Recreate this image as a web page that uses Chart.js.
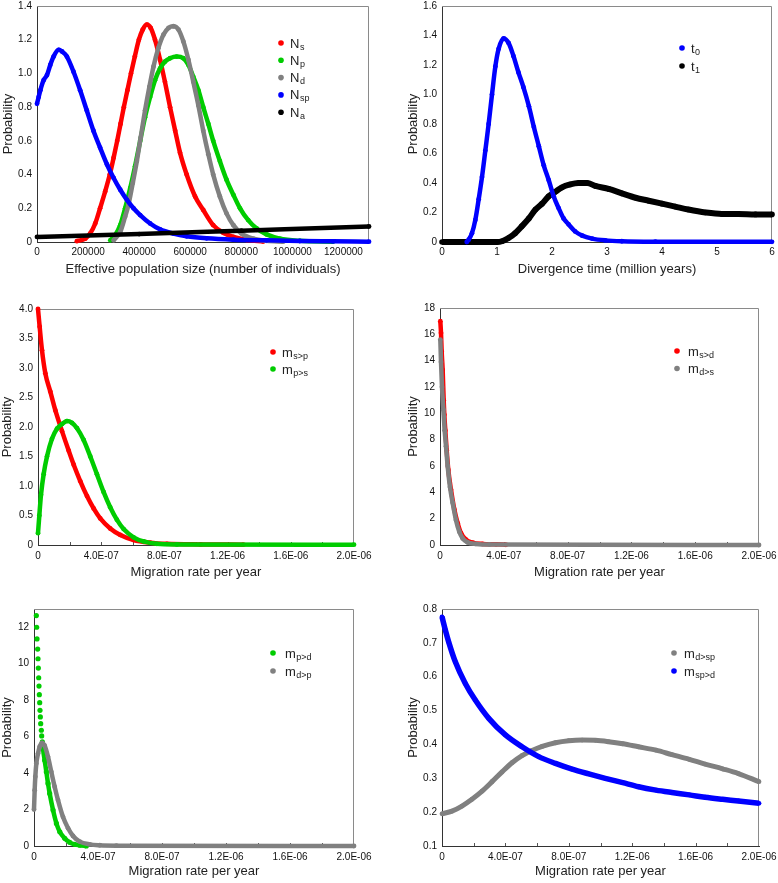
<!DOCTYPE html>
<html><head><meta charset="utf-8">
<script src="https://cdn.jsdelivr.net/npm/chart.js@4.4.1/dist/chart.umd.min.js"></script>
<style>
html,body{margin:0;padding:0;background:#fff;}
body{width:778px;height:883px;position:relative;overflow:hidden;}
canvas{position:absolute;}
</style></head><body>
<canvas id="c1"></canvas><canvas id="c2"></canvas><canvas id="c3"></canvas>
<canvas id="c4"></canvas><canvas id="c5"></canvas><canvas id="c6"></canvas>
<script>
// ---------- Panel 1: effective population size ----------
const nsX = [156000,189000,208000,228000,247000,267000,285000,300000,314000,327000,340000,354000,368000,383000,399000,414000,430000,445000,462000,482000,501000,521000,541000,560000,586000,619000,651000,690000,729000,769000,821000,886000];
const nsY = [0.005,0.02,0.05,0.11,0.2,0.3,0.4,0.5,0.6,0.7,0.8,0.9,1.0,1.1,1.2,1.26,1.29,1.27,1.2,1.08,0.95,0.8,0.66,0.53,0.4,0.27,0.19,0.1,0.055,0.03,0.012,0.003];
const npX = [287000,306000,326000,345000,365000,384000,404000,423000,443000,462000,482000,501000,521000,547000,573000,593000,612000,632000,651000,671000,690000,716000,742000,769000,795000,827000,860000,899000,951000,1029000,1159000];
const npY = [0.01,0.04,0.1,0.2,0.32,0.45,0.6,0.74,0.86,0.96,1.03,1.07,1.09,1.10,1.09,1.05,0.98,0.9,0.8,0.7,0.6,0.48,0.37,0.28,0.2,0.13,0.08,0.045,0.02,0.007,0.002];
const ndX = [300000,326000,345000,358000,375000,391000,406000,423000,440000,456000,475000,495000,515000,534000,554000,573000,593000,612000,632000,651000,671000,690000,716000,742000,769000,801000,847000,899000,964000];
const ndY = [0.01,0.06,0.15,0.22,0.35,0.48,0.62,0.78,0.92,1.04,1.15,1.23,1.27,1.28,1.26,1.19,1.08,0.95,0.81,0.66,0.52,0.4,0.27,0.17,0.1,0.05,0.02,0.007,0.002];
const nspX = [0,6500,13000,26000,39000,52000,65000,85000,98000,117000,143000,169000,195000,221000,247000,274000,300000,326000,352000,378000,404000,443000,482000,534000,586000,664000,769000,899000,1029000,1159000,1300000];
const nspY = [0.82,0.86,0.9,0.96,0.99,1.05,1.1,1.14,1.13,1.1,1.01,0.9,0.78,0.66,0.56,0.46,0.38,0.31,0.25,0.2,0.16,0.11,0.075,0.05,0.034,0.022,0.014,0.01,0.006,0.004,0.002];
const naX = [0,400000,800000,1300000];
const naY = [0.03,0.047,0.067,0.092];
const p1XTicks = [0,200000,400000,600000,800000,1000000,1200000];
const p1XLabels = ['0','200000','400000','600000','800000','1000000','1200000'];
const p1YTicks = [0,0.2,0.4,0.6,0.8,1.0,1.2,1.4];
const p1YLabels = ['0','0.2','0.4','0.6','0.8','1.0','1.2','1.4'];

// ---------- Panel 2: divergence time ----------
const t0X = [0.45,0.485,0.545,0.606,0.667,0.727,0.788,0.848,0.909,0.97,1.03,1.12,1.21,1.30,1.39,1.48,1.58,1.67,1.76,1.85,1.94,2.03,2.12,2.21,2.30,2.42,2.55,2.73,2.97,3.27,3.88,6];
const t0Y = [0,0.016,0.06,0.15,0.29,0.44,0.62,0.80,1.0,1.19,1.31,1.38,1.35,1.26,1.15,1.05,0.92,0.78,0.65,0.52,0.42,0.31,0.23,0.16,0.12,0.072,0.043,0.023,0.011,0.005,0.002,0.001];
const t1X = [0,1.0,1.09,1.21,1.33,1.45,1.58,1.70,1.82,1.94,2.06,2.18,2.33,2.48,2.64,2.79,3.03,3.27,3.52,3.76,4.0,4.24,4.48,4.79,5.09,5.39,5.70,6.0];
const t1Y = [0,0,0.005,0.027,0.06,0.106,0.16,0.22,0.26,0.31,0.34,0.37,0.39,0.40,0.40,0.38,0.36,0.33,0.30,0.28,0.26,0.24,0.22,0.20,0.19,0.19,0.187,0.187];
const p2XTicks = [0,1,2,3,4,5,6];
const p2XLabels = ['0','1','2','3','4','5','6'];
const p2YTicks = [0,0.2,0.4,0.6,0.8,1.0,1.2,1.4,1.6];
const p2YLabels = ['0','0.2','0.4','0.6','0.8','1.0','1.2','1.4','1.6'];

// ---------- Migration panels: shared x ticks ----------
const migXTicks = [0,4e-7,8e-7,1.2e-6,1.6e-6,2e-6];
const migXLabels = ['0','4.0E-07','8.0E-07','1.2E-06','1.6E-06','2.0E-06'];

// Panel 3
const mspX = [0,1.05e-8,2.53e-8,4.64e-8,7.8e-8,1.10e-7,1.52e-7,1.94e-7,2.26e-7,2.68e-7,3.10e-7,3.52e-7,3.94e-7,4.57e-7,5.21e-7,6.05e-7,7.10e-7,8.16e-7,1.03e-6,1.30e-6];
const mspY = [4.0,3.7,3.3,2.91,2.6,2.28,1.93,1.6,1.36,1.08,0.83,0.62,0.45,0.28,0.17,0.085,0.04,0.02,0.01,0.005];
const mpsX = [0,8.4e-9,1.9e-8,3.58e-8,5.69e-8,8.85e-8,1.20e-7,1.52e-7,1.83e-7,2.15e-7,2.47e-7,2.89e-7,3.31e-7,3.73e-7,4.15e-7,4.57e-7,4.99e-7,5.42e-7,6.05e-7,6.68e-7,7.52e-7,8.79e-7,2e-6];
const mpsY = [0.2,0.5,0.85,1.2,1.5,1.8,1.97,2.05,2.1,2.07,1.98,1.78,1.5,1.2,0.9,0.64,0.43,0.27,0.13,0.06,0.02,0.01,0.005];
const p3YTicks = [0,0.5,1,1.5,2,2.5,3,3.5,4];
const p3YLabels = ['0','0.5','1.0','1.5','2.0','2.5','3.0','3.5','4.0'];

// Panel 4
const msdX = [2.1e-9,6.3e-9,1.04e-8,1.67e-8,2.3e-8,2.71e-8,3.34e-8,4.18e-8,5.22e-8,6.89e-8,8.98e-8,1.11e-7,1.32e-7,1.63e-7,2.05e-7,2.67e-7,3.51e-7,4.13e-7];
const msdY = [17.0,16.1,14.7,13.3,11.0,9.9,8.7,7.2,5.7,4.2,2.7,1.65,0.9,0.4,0.18,0.08,0.05,0.02];
const mdsX = [2.1e-9,6.3e-9,1.25e-8,2.09e-8,2.92e-8,3.76e-8,4.8e-8,6.26e-8,7.93e-8,1.0e-7,1.21e-7,1.42e-7,1.73e-7,2.25e-7,3.09e-7,2e-6];
const mdsY = [15.6,13.9,12.0,10.3,8.7,7.5,6.0,4.4,3.2,1.9,1.0,0.5,0.2,0.08,0.03,0];
const p4YTicks = [0,2,4,6,8,10,12,14,16,18];
const p4YLabels = ['0','2','4','6','8','10','12','14','16','18'];

// Panel 5
const mpdX = [1.46e-8,1.67e-8,1.88e-8,2.29e-8,2.5e-8,2.71e-8,2.92e-8,3.13e-8,3.34e-8,3.55e-8,3.75e-8,3.96e-8,4.17e-8,4.59e-8,4.8e-8,5.21e-8,5.63e-8,6.67e-8,7.72e-8,8.76e-8,9.8e-8,1.19e-7,1.4e-7,1.61e-7,1.92e-7,2.23e-7,2.54e-7,2.86e-7,3.27e-7];
const mpdY = [12.64,12.0,11.36,10.8,10.27,9.76,9.23,8.77,8.3,7.86,7.44,7.08,6.71,6.35,6.04,5.71,5.34,4.7,4.07,3.43,2.88,1.97,1.24,0.78,0.42,0.2,0.09,0.04,0];
const mdpX = [0,4.2e-9,8.3e-9,1.46e-8,2.5e-8,3.55e-8,5.0e-8,6.67e-8,8.76e-8,1.08e-7,1.29e-7,1.5e-7,1.81e-7,2.13e-7,2.44e-7,2.86e-7,3.48e-7,4.11e-7,5.15e-7,2e-6];
const mdpY = [2.0,3.06,3.8,4.52,5.07,5.45,5.65,5.5,4.89,4.07,3.25,2.52,1.6,0.97,0.55,0.24,0.09,0.04,0.02,0];
const p5YTicks = [0,2,4,6,8,10,12];
const p5YLabels = ['0','2','4','6','8','10','12'];

// Panel 6
const mdspX = [0,6.3e-8,1.26e-7,1.89e-7,2.53e-7,3.16e-7,3.79e-7,4.42e-7,5.05e-7,5.68e-7,6.32e-7,7.16e-7,8.0e-7,8.84e-7,9.68e-7,1.05e-6,1.14e-6,1.24e-6,1.35e-6,1.45e-6,1.56e-6,1.66e-6,1.77e-6,1.87e-6,2e-6];
const mdspY = [0.195,0.203,0.218,0.238,0.262,0.29,0.319,0.346,0.367,0.382,0.394,0.405,0.411,0.413,0.412,0.408,0.402,0.393,0.383,0.37,0.356,0.342,0.328,0.314,0.29];
const mspdX = [0,2.1e-8,4.2e-8,8.4e-8,1.47e-7,2.1e-7,2.95e-7,4.0e-7,5.05e-7,6.1e-7,7.16e-7,8.21e-7,9.26e-7,1.03e-6,1.14e-6,1.24e-6,1.35e-6,1.45e-6,1.56e-6,1.66e-6,1.77e-6,1.87e-6,2e-6];
const mspdY = [0.777,0.738,0.703,0.644,0.58,0.531,0.477,0.428,0.393,0.364,0.344,0.327,0.313,0.30,0.287,0.275,0.265,0.258,0.251,0.244,0.238,0.233,0.226];
const p6YTicks = [0.1,0.2,0.3,0.4,0.5,0.6,0.7,0.8];
const p6YLabels = ['0.1','0.2','0.3','0.4','0.5','0.6','0.7','0.8'];

// ---------- styling ----------
const FAM = "'Liberation Sans', Arial, Helvetica, sans-serif";
const RED = '#ff0000', GREEN = '#00cc00', GRAY = '#808080', BLUE = '#0000ff', BLACK = '#000000';

const framePlugin = {
  id: 'frame',
  beforeDatasetsDraw(chart, args, opts) {
    const {ctx, chartArea: {left, top, right, bottom}} = chart;
    ctx.save();
    ctx.strokeStyle = '#8a8a8a'; ctx.lineWidth = 1;
    ctx.beginPath();
    ctx.moveTo(left, top + 0.5); ctx.lineTo(right - 0.5, top + 0.5); ctx.lineTo(right - 0.5, bottom);
    ctx.stroke();
    if (opts.minorX) {
      const xs = chart.scales.x;
      ctx.strokeStyle = '#555';
      ctx.beginPath();
      for (let k = 1; k * opts.minorX < xs.max * 0.999; k++) {
        const px = Math.round(xs.getPixelForValue(k * opts.minorX)) + 0.5;
        ctx.moveTo(px, bottom); ctx.lineTo(px, bottom - 3);
      }
      ctx.stroke();
    }
    ctx.restore();
  }
};

const legendPlugin = {
  id: 'subLegend',
  afterDraw(chart, args, opts) {
    if (!opts.items) return;
    const ctx = chart.ctx;
    ctx.save();
    opts.items.forEach((it, i) => {
      const y = opts.y + i * opts.dy;
      ctx.fillStyle = it.color;
      ctx.beginPath(); ctx.arc(opts.x, y, 2.8, 0, Math.PI * 2); ctx.fill();
      const parts = it.label.split('_');
      ctx.fillStyle = '#222';
      ctx.textBaseline = 'alphabetic'; ctx.textAlign = 'left';
      ctx.font = '13px ' + FAM;
      ctx.fillText(parts[0], opts.tx, y + 4.5);
      const w = ctx.measureText(parts[0]).width;
      if (parts[1]) {
        ctx.font = '9px ' + FAM;
        ctx.fillText(parts[1], opts.tx + w + 0.5, y + 6.5);
      }
    });
    ctx.restore();
  }
};

function makePanel(p) {
  const canvas = document.getElementById(p.id);
  const [cx, cy, cw, ch] = p.box;
  const [L, T, R, B] = p.area;
  canvas.width = cw; canvas.height = ch;
  canvas.style.left = cx + 'px'; canvas.style.top = cy + 'px';
  const datasets = p.series.map((s) => {
    const ds = {
      label: s.label,
      data: s.x.map((xv, j) => ({x: xv, y: s.y[j]})),
      showLine: true,
      borderColor: s.color, backgroundColor: s.color,
      borderWidth: s.lw || 4.5, pointRadius: s.pr || 2.4, pointBorderWidth: 0,
      pointHoverRadius: 0, pointHitRadius: 0,
      cubicInterpolationMode: 'monotone', clip: false,
      order: s.order
    };
    if (s.dotsUntil) {
      ds.segment = {borderColor: c => (c.p1DataIndex <= s.dotsUntil ? 'rgba(0,0,0,0)' : s.color)};
    }
    return ds;
  });
  const zeroPad = sc => { sc.paddingLeft = 0; sc.paddingRight = 0; sc.paddingTop = 0; sc.paddingBottom = 0; };
  new Chart(canvas, {
    type: 'scatter',
    data: {datasets},
    options: {
      responsive: false, animation: false, events: [],
      layout: {padding: {left: 0, top: T - cy, right: cx + cw - R, bottom: 0}},
      plugins: {
        legend: {display: false}, tooltip: {enabled: false},
        frame: {minorX: p.minorX || 0},
        subLegend: {items: p.series.map(s => ({label: s.label, color: s.color})),
                    x: p.legend.x - cx, tx: p.legend.tx - cx, y: p.legend.y - cy, dy: p.legend.dy}
      },
      scales: {
        x: {
          type: 'linear', position: 'bottom', min: p.xMin, max: p.xMax,
          afterBuildTicks: sc => { sc.ticks = p.xTicks.map(v => ({value: v})); },
          ticks: {autoSkip: false, maxRotation: 0, minRotation: 0, padding: p.xTickPad || 5, color: '#111',
                  font: {family: FAM, size: 10}, callback: (v, i) => p.xLabels[i]},
          grid: {display: false, drawTicks: false},
          border: {display: true, color: '#333', width: 1},
          title: {display: true, text: p.xTitle, color: '#222', font: {family: FAM, size: 13},
                  padding: {top: 0, bottom: (cy + ch) - p.xTitleY - 7.8}},
          afterFit: sc => { sc.height = cy + ch - B; zeroPad(sc); }
        },
        y: {
          type: 'linear', position: 'left', min: p.yMin, max: p.yMax,
          afterBuildTicks: sc => { sc.ticks = p.yTicks.map(v => ({value: v})); },
          ticks: {autoSkip: false, padding: p.yTickPad || 5, color: '#111',
                  font: {family: FAM, size: 10}, callback: (v, i) => p.yLabels[i]},
          grid: {display: false, drawTicks: false},
          border: {display: true, color: '#333', width: 1},
          title: {display: true, text: 'Probability', color: '#222', font: {family: FAM, size: 13},
                  padding: {top: p.yTitleX - cx - 7.8, bottom: 0}},
          afterFit: sc => { sc.width = L - cx; zeroPad(sc); }
        }
      }
    },
    plugins: [framePlugin, legendPlugin]
  });
}

const MIG = 'Migration rate per year';

makePanel({id: 'c1', box: [0, 0, 389, 290], area: [37, 6, 369, 242], xTitleY: 269, yTitleX: 8,
  xTitle: 'Effective population size (number of individuals)', xMin: 0, xMax: 1300000, xTicks: p1XTicks, xLabels: p1XLabels,
  yMin: 0, yMax: 1.4, yTicks: p1YTicks, yLabels: p1YLabels, xTickPad: 4,
  legend: {x: 281, tx: 290, y: 43, dy: 17.3},
  series: [
    {label: 'N_s', x: nsX, y: nsY, color: RED, order: 5},
    {label: 'N_p', x: npX, y: npY, color: GREEN, order: 4},
    {label: 'N_d', x: ndX, y: ndY, color: GRAY, order: 3},
    {label: 'N_sp', x: nspX, y: nspY, color: BLUE, order: 2},
    {label: 'N_a', x: naX, y: naY, color: BLACK, order: 1}
  ]});

makePanel({id: 'c2', box: [389, 0, 389, 290], area: [442, 6, 772, 242], xTitleY: 269, yTitleX: 413,
  xTitle: 'Divergence time (million years)', xMin: 0, xMax: 6, xTicks: p2XTicks, xLabels: p2XLabels,
  yMin: 0, yMax: 1.6, yTicks: p2YTicks, yLabels: p2YLabels, xTickPad: 4,
  legend: {x: 682, tx: 691, y: 48, dy: 18},
  series: [
    {label: 't_0', x: t0X, y: t0Y, color: BLUE, order: 1},
    {label: 't_1', x: t1X, y: t1Y, color: BLACK, order: 2, lw: 6, pr: 2.8}
  ]});

makePanel({id: 'c3', box: [0, 290, 389, 300], area: [38, 309, 354, 545], xTitleY: 572, yTitleX: 7,
  xTitle: MIG, xMin: 0, xMax: 2e-6, xTicks: migXTicks, xLabels: migXLabels, minorX: 2e-7,
  yMin: 0, yMax: 4, yTicks: p3YTicks, yLabels: p3YLabels,
  legend: {x: 273, tx: 282, y: 352, dy: 17},
  series: [
    {label: 'm_s>p', x: mspX, y: mspY, color: RED, order: 2},
    {label: 'm_p>s', x: mpsX, y: mpsY, color: GREEN, order: 1}
  ]});

makePanel({id: 'c4', box: [389, 290, 389, 300], area: [440, 308, 759, 545], xTitleY: 572, yTitleX: 413,
  xTitle: MIG, xMin: 0, xMax: 2e-6, xTicks: migXTicks, xLabels: migXLabels, minorX: 2e-7,
  yMin: 0, yMax: 18, yTicks: p4YTicks, yLabels: p4YLabels,
  legend: {x: 677, tx: 688, y: 351, dy: 17.5},
  series: [
    {label: 'm_s>d', x: msdX, y: msdY, color: RED, order: 2},
    {label: 'm_d>s', x: mdsX, y: mdsY, color: GRAY, order: 1}
  ]});

makePanel({id: 'c5', box: [0, 590, 389, 293], area: [34, 609, 354, 846], xTitleY: 871, yTitleX: 7,
  xTitle: MIG, xMin: 0, xMax: 2e-6, xTicks: migXTicks, xLabels: migXLabels, minorX: 2e-7,
  yMin: 0, yMax: 13, yTicks: p5YTicks, yLabels: p5YLabels,
  legend: {x: 273, tx: 285, y: 653, dy: 18},
  series: [
    {label: 'm_p>d', x: mpdX, y: mpdY, color: GREEN, order: 2, dotsUntil: 16, pr: 2.6},
    {label: 'm_d>p', x: mdpX, y: mdpY, color: GRAY, order: 1}
  ]});

makePanel({id: 'c6', box: [389, 590, 389, 293], area: [442, 609, 759, 846], xTitleY: 871, yTitleX: 413,
  xTitle: MIG, xMin: 0, xMax: 2e-6, xTicks: migXTicks, xLabels: migXLabels, minorX: 2e-7,
  yMin: 0.1, yMax: 0.8, yTicks: p6YTicks, yLabels: p6YLabels,
  legend: {x: 674, tx: 684, y: 653, dy: 18},
  series: [
    {label: 'm_d>sp', x: mdspX, y: mdspY, color: GRAY, order: 2, lw: 5},
    {label: 'm_sp>d', x: mspdX, y: mspdY, color: BLUE, order: 1, lw: 5.5}
  ]});
</script>
</body></html>
